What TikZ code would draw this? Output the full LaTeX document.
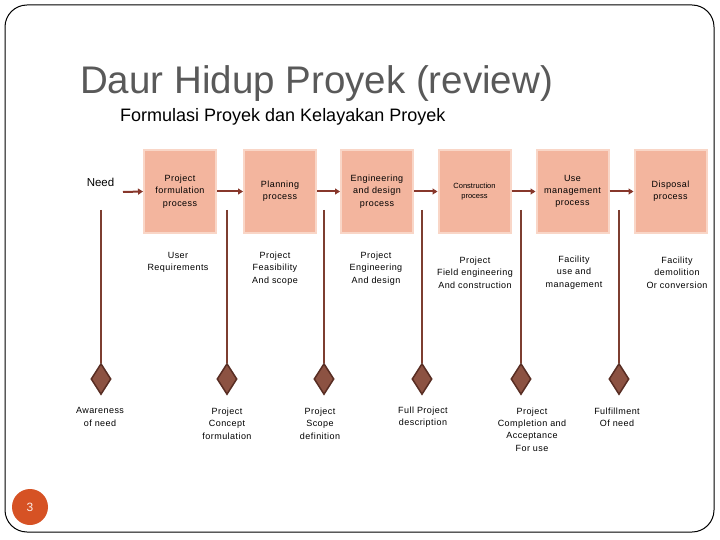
\documentclass[tikz,border=0pt]{standalone}
\usepackage{fontspec}
\setmainfont{Liberation Sans}
\newfontfamily\trackfont[LetterSpace=5]{Liberation Sans}
\usetikzlibrary{shapes.geometric,arrows.meta}
\definecolor{boxfill}{RGB}{243,181,158}
\definecolor{boxborder}{RGB}{249,214,199}
\definecolor{flowcol}{RGB}{135,55,43}
\definecolor{stemcol}{RGB}{125,62,48}
\definecolor{gemfill}{RGB}{140,82,66}
\definecolor{gemborder}{RGB}{88,45,35}
\definecolor{pagecol}{RGB}{214,82,36}
\definecolor{titlecol}{RGB}{89,89,89}
\tikzset{
  procbox/.style={rectangle, fill=boxfill, draw=boxborder, line width=2pt,
    minimum width=72pt, minimum height=83pt, inner sep=0pt, align=center,
    font=\trackfont\fontsize{9}{12.3}\selectfont},
  flow/.style={draw=flowcol, line width=2pt, -{Triangle[length=5pt,width=6pt]}},
  stem/.style={draw=stemcol, line width=1.3pt},
  gem/.style={diamond, fill=gemfill, draw=gemborder, line width=1.5pt,
    minimum width=20pt, minimum height=31pt, inner sep=0pt},
  lbl/.style={align=center, inner sep=0pt,
    font=\trackfont\fontsize{9}{12.3}\selectfont},
}
\begin{document}
\begin{tikzpicture}[x=1pt,y=-1pt]
\useasboundingbox (0,0) rectangle (720,540);
\draw[black, line width=1pt, rounded corners=22pt] (5,5) rectangle (714,532);
\node[anchor=base west, inner sep=0pt, text=titlecol, font=\fontsize{38.5}{44}\selectfont] (title) at (80,94) {Daur Hidup Proyek (review)};
\node[anchor=base west, inner sep=0pt, font=\fontsize{18}{21}\selectfont] (sub) at (120,122) {Formulasi Proyek dan Kelayakan Proyek};
\node[inner sep=0pt, font=\fontsize{11.5}{13}\selectfont] (need) at (100.5,182.5) {Need};
% boxes
\node[procbox] (b1) at (180,191.5) {Project\\formulation\\process};
\node[procbox] (b2) at (280,191.5) {Planning\\process};
\node[procbox] (b3) at (377,191.5) {Engineering\\and design\\process};
\node[procbox, font=\fontsize{7.5}{10}\selectfont] (b4) at (474.5,191.5) {Construction\\process};
\node[procbox] (b5) at (572.5,191.5) {Use\\management\\process};
\node[procbox] (b6) at (670.5,191.5) {Disposal\\process};
\coordinate (needend) at (123,192);
\draw[flow] (needend) -- (b1.west);
\draw[flow] (b1.east) -- (b2.west);
\draw[flow] (b2.east) -- (b3.west);
\draw[flow] (b3.east) -- (b4.west);
\draw[flow] (b4.east) -- (b5.west);
\draw[flow] (b5.east) -- (b6.west);
% labels under boxes
\node[lbl] (l1) at (178,262) {User\\Requirements};
\node[lbl] (l2) at (275,268.5) {Project\\Feasibility\\And scope};
\node[lbl] (l3) at (376,268.5) {Project\\Engineering\\And design};
\node[lbl] (l4) at (475,272.5) {Project\\Field engineering\\And construction};
\node[lbl] (l5) at (574,272.5) {Facility\\use and\\management};
\node[lbl] (l6) at (677,272.5) {Facility\\demolition\\Or conversion};
% milestones
\foreach \n/\x in {1/101,2/227,3/324,4/422,5/521,6/619}{
  \coordinate (s\n) at (\x,210);
  \node[gem] (g\n) at (\x,379) {};
  \draw[stem] (s\n) -- (g\n.north);
}
\node[lbl] (m1) at (100,417) {Awareness\\of need};
\node[lbl] (m2) at (227,423.5) {Project\\Concept\\formulation};
\node[lbl] (m3) at (320,423.5) {Project\\Scope\\definition};
\node[lbl] (m4) at (423,417) {Full Project\\description};
\node[lbl] (m5) at (532,429.5) {Project\\Completion and\\Acceptance\\For use};
\node[lbl] (m6) at (617,417) {Fulfillment\\Of need};
% page number
\node[circle, fill=pagecol, minimum size=36pt, inner sep=0pt, text={white!90!pagecol}, font=\fontsize{12}{14}\selectfont] (page) at (30,507) {3};
\end{tikzpicture}
\end{document}
